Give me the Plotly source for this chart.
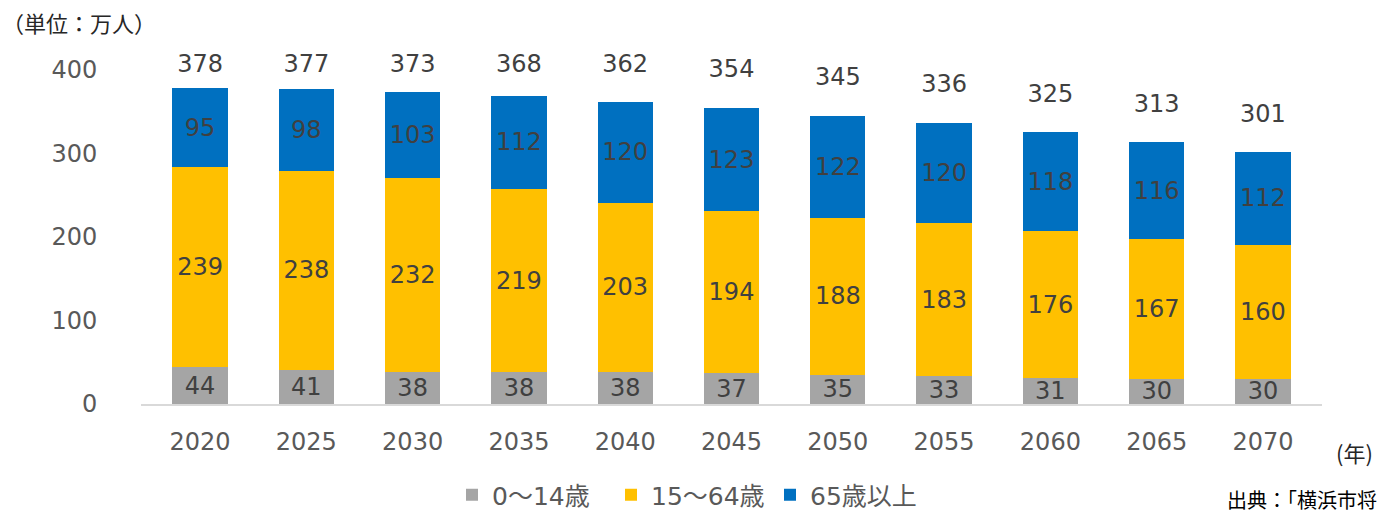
import plotly.graph_objects as go
import numpy as np

years = ["2020", "2025", "2030", "2035", "2040", "2045", "2050", "2055", "2060", "2065", "2070"]
age_0_14 = [44, 41, 38, 38, 38, 37, 35, 33, 31, 30, 30]
age_15_64 = [239, 238, 232, 219, 203, 194, 188, 183, 176, 167, 160]
age_65_plus = [95, 98, 103, 112, 120, 123, 122, 120, 118, 116, 112]
totals = [378, 377, 373, 368, 362, 354, 345, 336, 325, 313, 301]

series_names = ["0～14歳", "15～64歳", "65歳以上"]
colors = ["#A5A5A5", "#FFC000", "#0070C0"]

FONT = "DejaVu Sans, Verdana, Noto Sans CJK JP, sans-serif"
CJK = "Noto Sans CJK JP, sans-serif"

fig = go.Figure()
for name, vals, col in zip(series_names, [age_0_14, age_15_64, age_65_plus], colors):
    fig.add_trace(go.Bar(
        x=years, y=vals, name=name, marker=dict(color=col, line=dict(width=0)),
        text=vals, texttemplate="%{text}", textposition="inside",
        insidetextanchor="middle", textangle=0,
        textfont=dict(size=24, color="#404040", family=FONT),
        hoverinfo="x+y+name",
    ))

label_y = np.minimum(np.array(totals) + 44, 405)
fig.add_trace(go.Scatter(
    x=years, y=label_y, mode="text", text=[str(t) for t in totals],
    textposition="middle center", showlegend=False, cliponaxis=False,
    textfont=dict(size=24, color="#404040", family=FONT), hoverinfo="skip",
))

PH = 351.0  # plot height in px
PW = 1181.0
fig.add_annotation(xref="paper", yref="paper", x=-141/PW, y=(404-22)/PH,
                   xanchor="left", yanchor="middle", text="（単位：万人）", showarrow=False,
                   font=dict(size=22, color="#262626", family=CJK))
fig.add_annotation(xref="paper", yref="paper", x=1 + 12/PW, y=(404-452)/PH,
                   xanchor="left", yanchor="middle", text="(年)", showarrow=False,
                   font=dict(size=22, color="#262626", family=CJK))
fig.add_annotation(xref="paper", yref="paper", x=1 - 97/PW, y=(404-500)/PH,
                   xanchor="left", yanchor="middle", text="出典：「横浜市将来人口推計」", showarrow=False,
                   font=dict(size=20, color="#000000", family=CJK))

fig.update_layout(
    barmode="stack", bargap=0.48,
    width=1377, height=510,
    margin=dict(l=141, r=55, t=53, b=106),
    paper_bgcolor="white", plot_bgcolor="white",
    uniformtext=dict(minsize=24, mode="show"),
    legend=dict(orientation="h", xref="container", yref="container",
                x=452/1377, xanchor="left", y=(510-495)/510, yanchor="middle",
                font=dict(size=25, color="#595959", family=FONT),
                entrywidth=114, traceorder="normal"),
    xaxis=dict(type="category", showgrid=False, showline=True, linecolor="#D9D9D9", linewidth=2,
               ticks="outside", ticklen=15, tickcolor="rgba(0,0,0,0)",
               tickfont=dict(size=24, color="#595959", family=FONT)),
    yaxis=dict(range=[0, 420], tickvals=[0, 100, 200, 300, 400], showgrid=False,
               zeroline=False, showline=False,
               ticks="outside", ticklen=38, tickcolor="rgba(0,0,0,0)",
               tickfont=dict(size=24, color="#595959", family=FONT)),
    showlegend=True,
)

fig.write_html("out.html")
